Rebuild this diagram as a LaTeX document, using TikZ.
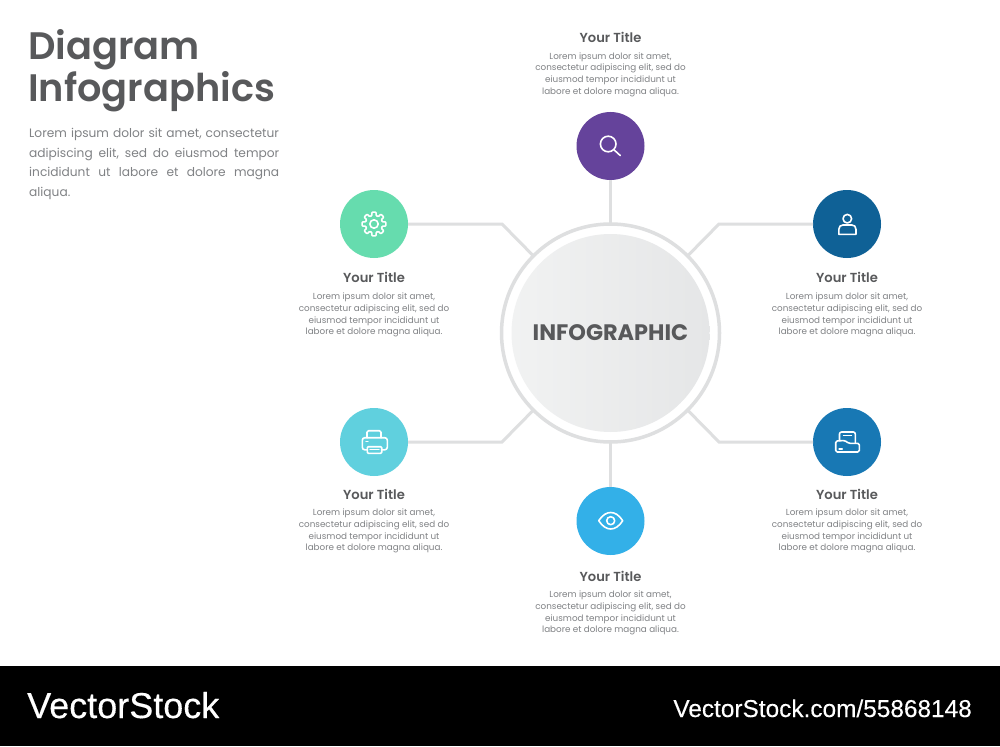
\documentclass[tikz,border=0pt]{standalone}
\usepackage{fontspec}
\setmainfont{Poppins}
\newfontfamily\semi{Poppins SemiBold}
\newfontfamily\logofont[FakeBold=0.35]{Liberation Sans}
\newfontfamily\urlfont[FakeBold=0.15]{Liberation Sans}
\definecolor{ink}{HTML}{58595B}
\definecolor{soft}{HTML}{808285}
\definecolor{wire}{HTML}{DEDFE0}
\definecolor{coreL}{HTML}{F1F2F2}
\definecolor{coreR}{HTML}{E5E6E7}
\definecolor{cPurple}{HTML}{65439B}
\definecolor{cGreen}{HTML}{66DCAE}
\definecolor{cCyan}{HTML}{60D0DE}
\definecolor{cNavy}{HTML}{0F6196}
\definecolor{cBlue}{HTML}{1878B4}
\definecolor{cSky}{HTML}{33B0E8}
\tikzset{
  disc/.style={circle,minimum size=68pt,inner sep=0pt,outer sep=0pt},
  wireline/.style={draw=wire,line width=3pt},
  icon/.style={draw=white,line width=1.6pt,line join=round,line cap=round},
  ttl/.style={font=\semi\fontsize{13.1}{15}\selectfont,text=ink,inner sep=0pt},
  txt/.style={font=\fontsize{8.8}{11.7}\selectfont,text=soft,align=center,inner sep=0pt},
  headline/.style={anchor=base west,inner sep=0pt,text=ink,font=\semi\fontsize{38.3}{42}\selectfont},
}
\begin{document}
\begin{tikzpicture}[x=1pt,y=-1pt]
\useasboundingbox (0,0) rectangle (1000,746);
\fill[white] (0,0) rectangle (1000,746);
\node[fill=black,minimum width=1000pt,minimum height=80pt,inner sep=0pt,outer sep=0pt,anchor=north west] (footer) at (0,666) {};
\node[anchor=base west,inner sep=0pt,text=white,font=\logofont\fontsize{36}{36}\selectfont] (logo) at (27,718) {VectorStock};
\node[anchor=base east,inner sep=0pt,text=white,font=\urlfont\fontsize{24.4}{24}\selectfont] (url) at (972,717) {VectorStock.com/55868148};
% ring and core
\node[circle,draw=wire,line width=3.5pt,minimum size=218pt,inner sep=0pt,outer sep=0pt] (ring) at (610.5,333) {};
\node[circle,left color=coreL,right color=coreR,minimum size=198pt,inner sep=0pt,outer sep=0pt,font=\fontsize{22.4}{24}\selectfont\bfseries,text=ink] (core) at (610.5,333) {\raisebox{-1pt}{INFOGRAPHIC}};
% discs
\node[disc,fill=cPurple] (search) at (610.5,146) {};
\node[disc,fill=cGreen] (gear) at (374,224) {};
\node[disc,fill=cNavy] (person) at (847,224) {};
\node[disc,fill=cCyan] (printer) at (374,442) {};
\node[disc,fill=cBlue] (folder) at (847,442) {};
\node[disc,fill=cSky] (eye) at (610.5,521) {};
% connectors
\coordinate (bendA) at (502,224);
\coordinate (bendB) at (719,224);
\coordinate (bendC) at (502,442);
\coordinate (bendD) at (719,442);
\draw[wireline] (search) -- (ring);
\draw[wireline] (eye) -- (ring);
\draw[wireline] (gear) -- (bendA) -- (ring.135);
\draw[wireline] (person) -- (bendB) -- (ring.45);
\draw[wireline] (printer) -- (bendC) -- (ring.225);
\draw[wireline] (folder) -- (bendD) -- (ring.315);
% icons: magnifier
\draw[icon] (608.2,144) circle (7.8);
\draw[icon] (614,149.8) -- (620.2,155.5);
% gear
\begin{scope}[shift={(374,224)}]
\foreach \a in {0,45,...,315}{
  \draw[icon,rounded corners=0.7pt] (\a-22.5:8.5) -- (\a-14:8.7) -- (\a-10:12) -- (\a+10:12) -- (\a+14:8.7) -- (\a+22.5:8.5);
}
\draw[icon] (0,0) circle (4.2);
\end{scope}
% printer
\draw[icon,rounded corners=1.5pt] (367,437.7) -- (367,430.7) -- (381,430.7) -- (381,437.7);
\draw[icon,rounded corners=2.5pt] (367.3,449.8) -- (362.3,449.8) -- (362.3,437.7) -- (387.3,437.7) -- (387.3,449.8) -- (381.7,449.8);
\draw[icon,rounded corners=1pt] (367.3,446.7) rectangle (381.7,453.3);
\draw[icon,line width=1.1pt] (370,449.8) -- (379,449.8);
\draw[icon,line width=1.1pt] (366,441.7) -- (368,441.7);
% person
\draw[icon] (847.3,218.7) circle (4.3);
\draw[icon] (838.8,234.3) -- (838.8,229.5) .. controls (838.8,226.5) and (840.5,225) .. (843,225) -- (851.8,225) .. controls (854.3,225) and (856,226.5) .. (856,229.5) -- (856,234.3) -- cycle;
% folder
\draw[icon,rounded corners=2pt] (839.5,440.5) -- (839.5,432) -- (855.3,432) -- (855.3,443);
\draw[icon,line width=1.2pt] (843.5,435.7) -- (851.5,435.7);
\draw[icon,rounded corners=1.5pt] (835.7,441) -- (845,440.5) -- (848.5,443.3) -- (859.3,443.3) -- (859.3,452) -- (835.7,452) -- cycle;
\draw[icon,line width=1.2pt] (839,449) -- (842.3,449);
% eye
\draw[icon] (598.7,520.7) .. controls (602.5,515) and (606.5,512.5) .. (610.7,512.5) .. controls (615,512.5) and (619,515) .. (622.7,520.7) .. controls (619,526.4) and (615,529) .. (610.7,529) .. controls (606.5,529) and (602.5,526.4) .. (598.7,520.7) -- cycle;
\draw[icon] (610.7,520.7) circle (4);
% heading
\node[headline] (h1) at (28,60) {Diagram};
\node[headline] (h2) at (28,102) {Infographics};
\node[anchor=north west,inner sep=0pt,text=soft,text width=250pt,align=left,font=\fontsize{12.2}{19.5}\selectfont] (intro) at (29,128.5) {\hbox to 250pt{Lorem ipsum dolor sit amet, consectetur}\par\hbox to 250pt{adipiscing \hfill elit, \hfill sed \hfill do \hfill eiusmod \hfill tempor}\par\hbox to 250pt{incididunt \hfill ut \hfill labore \hfill et \hfill dolore \hfill magna}\par\hbox to 250pt{aliqua.\hss}};
% labels
\node[ttl] (t1) at (610.5,37.5) {Your Title};
\node[txt] (b1) at (610.5,74.5) {Lorem ipsum dolor sit amet,\\consectetur adipiscing elit, sed do\\eiusmod tempor incididunt ut\\labore et dolore magna aliqua.};
\node[ttl] (t2) at (374,277.5) {Your Title};
\node[txt] (b2) at (374,315) {Lorem ipsum dolor sit amet,\\consectetur adipiscing elit, sed do\\eiusmod tempor incididunt ut\\labore et dolore magna aliqua.};
\node[ttl] (t3) at (847,277.5) {Your Title};
\node[txt] (b3) at (847,315) {Lorem ipsum dolor sit amet,\\consectetur adipiscing elit, sed do\\eiusmod tempor incididunt ut\\labore et dolore magna aliqua.};
\node[ttl] (t4) at (374,494) {Your Title};
\node[txt] (b4) at (374,531) {Lorem ipsum dolor sit amet,\\consectetur adipiscing elit, sed do\\eiusmod tempor incididunt ut\\labore et dolore magna aliqua.};
\node[ttl] (t5) at (847,494) {Your Title};
\node[txt] (b5) at (847,531) {Lorem ipsum dolor sit amet,\\consectetur adipiscing elit, sed do\\eiusmod tempor incididunt ut\\labore et dolore magna aliqua.};
\node[ttl] (t6) at (610.5,576) {Your Title};
\node[txt] (b6) at (610.5,613) {Lorem ipsum dolor sit amet,\\consectetur adipiscing elit, sed do\\eiusmod tempor incididunt ut\\labore et dolore magna aliqua.};
\end{tikzpicture}
\end{document}
